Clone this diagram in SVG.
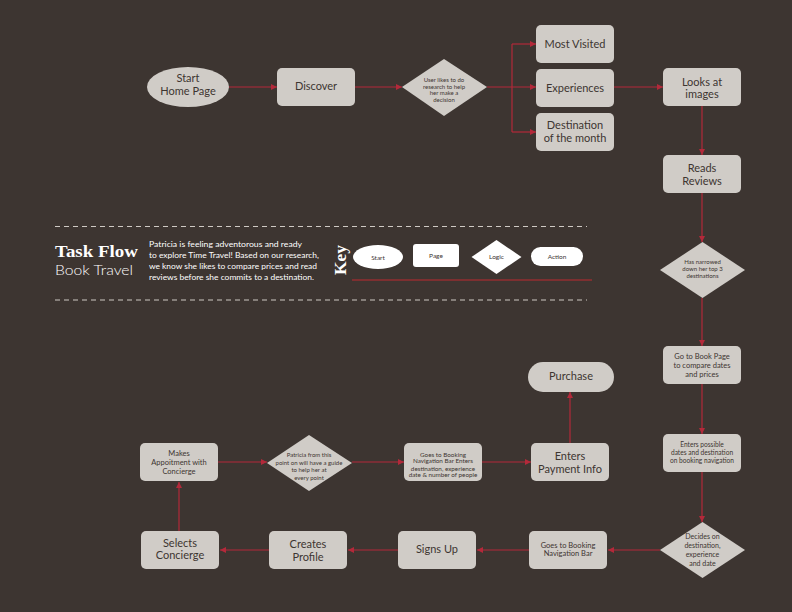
<svg xmlns="http://www.w3.org/2000/svg" width="792" height="612" viewBox="0 0 792 612">
<defs>
<style>
.n{fill:#d0ccc7}
.t{font-family:Lato,"Liberation Sans",sans-serif;fill:#3d3531;text-anchor:middle}
.l{font-size:11px}
.s{font-size:6px}
.m{font-size:7.5px}
.c{fill:none;stroke:#b3293a;stroke-width:1.2}
.k{fill:#ffffff}
.kt{font-family:Lato,"Liberation Sans",sans-serif;fill:#3d3531;font-size:6.5px;text-anchor:middle}
.d{stroke:#cfcac4;stroke-width:1;stroke-dasharray:5 4;fill:none}
</style>
<marker id="a" markerUnits="userSpaceOnUse" markerWidth="6" markerHeight="6" refX="6" refY="3" orient="auto">
<path d="M0,0 L6,3 L0,6 z" fill="#b3293a"/>
</marker>
</defs>
<rect width="792" height="612" fill="#3d3531"/>

<g id="connectors">
<path class="c" d="M229,87 H277" marker-end="url(#a)"/>
<path class="c" d="M355,87 H402" marker-end="url(#a)"/>
<path class="c" d="M487,87 H536" marker-end="url(#a)"/>
<path class="c" d="M512,44 V132"/>
<path class="c" d="M512,44 H536" marker-end="url(#a)"/>
<path class="c" d="M512,132 H536" marker-end="url(#a)"/>
<path class="c" d="M614,87 H663" marker-end="url(#a)"/>
<path class="c" d="M702,106 V155" marker-end="url(#a)"/>
<path class="c" d="M702,193 V242" marker-end="url(#a)"/>
<path class="c" d="M702,298 V346" marker-end="url(#a)"/>
<path class="c" d="M702,384 V434" marker-end="url(#a)"/>
<path class="c" d="M702,472 V522" marker-end="url(#a)"/>
<path class="c" d="M660,550 H608" marker-end="url(#a)"/>
<path class="c" d="M529,550 H477" marker-end="url(#a)"/>
<path class="c" d="M398,550 H348" marker-end="url(#a)"/>
<path class="c" d="M269,550 H220" marker-end="url(#a)"/>
<path class="c" d="M179,531 V482" marker-end="url(#a)"/>
<path class="c" d="M218,462 H267" marker-end="url(#a)"/>
<path class="c" d="M352,462 H404" marker-end="url(#a)"/>
<path class="c" d="M482,462 H531" marker-end="url(#a)"/>
<path class="c" d="M570,443 V392" marker-end="url(#a)"/>
</g>

<g id="start">
<ellipse class="n" cx="188" cy="87" rx="41" ry="20"/>
<text class="t l" x="188" y="82">Start</text>
<text class="t l" x="188" y="95">Home Page</text>
</g>
<g id="discover">
<rect class="n" x="277" y="68" width="78" height="38" rx="5"/>
<text class="t l" x="316" y="90">Discover</text>
</g>
<g id="decision1">
<polygon class="n" points="444,59 487,87 444,116 402,87"/>
<text class="t s" x="444" y="82">User likes to do</text>
<text class="t s" x="444" y="88.5">research to help</text>
<text class="t s" x="444" y="95">her make a</text>
<text class="t s" x="444" y="101.5">decision</text>
</g>
<g id="most-visited">
<rect class="n" x="536" y="25" width="78" height="38" rx="5"/>
<text class="t l" x="575" y="48">Most Visited</text>
</g>
<g id="experiences">
<rect class="n" x="536" y="69" width="78" height="38" rx="5"/>
<text class="t l" x="575" y="91.5">Experiences</text>
</g>
<g id="destination">
<rect class="n" x="536" y="113" width="78" height="38" rx="5"/>
<text class="t l" x="575" y="129">Destination</text>
<text class="t l" x="575" y="141.5">of the month</text>
</g>
<g id="looks">
<rect class="n" x="663" y="68" width="78" height="38" rx="5"/>
<text class="t l" x="702" y="85.5">Looks at</text>
<text class="t l" x="702" y="98">images</text>
</g>
<g id="reads">
<rect class="n" x="663" y="155" width="78" height="38" rx="5"/>
<text class="t l" x="702" y="172">Reads</text>
<text class="t l" x="702" y="185">Reviews</text>
</g>
<g id="narrowed">
<polygon class="n" points="702.5,242 745,270 702.5,298 660,270"/>
<text class="t s" x="702.5" y="264">Has narrowed</text>
<text class="t s" x="702.5" y="271">down her top 3</text>
<text class="t s" x="702.5" y="278">destinations</text>
</g>
<g id="book-page">
<rect class="n" x="663" y="346" width="78" height="38" rx="5"/>
<text class="t" font-size="7.5" x="702" y="358.5">Go to Book Page</text>
<text class="t" font-size="7.5" x="702" y="367.5">to compare dates</text>
<text class="t" font-size="7.5" x="702" y="376.5">and prices</text>
</g>
<g id="enters-dates">
<rect class="n" x="663" y="434" width="78" height="38" rx="5"/>
<text class="t" font-size="6.6" x="702" y="447">Enters possible</text>
<text class="t" font-size="6.6" x="702" y="455">dates and destination</text>
<text class="t" font-size="6.6" x="702" y="463">on booking navigation</text>
</g>
<g id="decides">
<polygon class="n" points="702.5,522 745,550 702.5,578 660,550"/>
<text class="t" font-size="7" x="702.5" y="539">Decides on</text>
<text class="t" font-size="7" x="702.5" y="547.5">destination,</text>
<text class="t" font-size="7" x="702.5" y="557">experience</text>
<text class="t" font-size="7" x="702.5" y="565.5">and date</text>
</g>
<g id="goes-nav">
<rect class="n" x="529" y="531" width="78" height="38" rx="5"/>
<text class="t m" x="568" y="547.5">Goes to Booking</text>
<text class="t m" x="568" y="556">Navigation Bar</text>
</g>
<g id="signs-up">
<rect class="n" x="398" y="531" width="78" height="38" rx="5"/>
<text class="t l" x="437" y="553">Signs Up</text>
</g>
<g id="creates-profile">
<rect class="n" x="269" y="531" width="78" height="38" rx="5"/>
<text class="t l" x="308" y="548">Creates</text>
<text class="t l" x="308" y="560.5">Profile</text>
</g>
<g id="selects-concierge">
<rect class="n" x="141" y="531" width="78" height="38" rx="5"/>
<text class="t l" x="180" y="546.5">Selects</text>
<text class="t l" x="180" y="559">Concierge</text>
</g>
<g id="makes-appointment">
<rect class="n" x="140" y="443" width="78" height="38" rx="5"/>
<text class="t" font-size="7.5" x="179" y="455.5">Makes</text>
<text class="t" font-size="7.5" x="179" y="464.5">Appoitment with</text>
<text class="t" font-size="7.5" x="179" y="473.5">Concierge</text>
</g>
<g id="guide">
<polygon class="n" points="309,435 352,463 309,491 267,463"/>
<text class="t s" x="309" y="457">Patricia from this</text>
<text class="t s" x="309" y="464.5">point on will have a guide</text>
<text class="t s" x="309" y="472">to help her at</text>
<text class="t s" x="309" y="479.5">every point</text>
</g>
<g id="goes-enters">
<rect class="n" x="404" y="443" width="78" height="38" rx="5"/>
<text class="t" font-size="6.3" x="443" y="456.5">Goes to Booking</text>
<text class="t" font-size="6.3" x="443" y="463">Navigation Bar Enters</text>
<text class="t" font-size="6.3" x="443" y="470.5">destination, experience</text>
<text class="t" font-size="6.3" x="443" y="477">date &amp; number of people</text>
</g>
<g id="payment">
<rect class="n" x="531" y="443" width="78" height="38" rx="5"/>
<text class="t l" x="570" y="460">Enters</text>
<text class="t l" x="570" y="473">Payment Info</text>
</g>
<g id="purchase">
<rect class="n" x="528" y="362" width="86" height="30" rx="15"/>
<text class="t l" x="571" y="380">Purchase</text>
</g>

<g id="title">
<path class="d" d="M55,226.5 H587"/>
<path class="d" d="M55,300 H587"/>
<text x="55" y="256.5" font-family="'Liberation Serif',serif" font-weight="bold" font-size="16" fill="#ffffff" textLength="83" lengthAdjust="spacingAndGlyphs">Task Flow</text>
<text x="55" y="275" font-family="Lato,'Liberation Sans',sans-serif" font-weight="300" font-size="14" fill="#ffffff" textLength="78" lengthAdjust="spacingAndGlyphs">Book Travel</text>
<g font-family="Lato,'Liberation Sans',sans-serif" font-size="8" fill="#ffffff">
<text x="149" y="247" textLength="153" lengthAdjust="spacingAndGlyphs">Patricia is feeling adventorous and ready</text>
<text x="149" y="258" textLength="170" lengthAdjust="spacingAndGlyphs">to explore Time Travel! Based on our research,</text>
<text x="149" y="269" textLength="168" lengthAdjust="spacingAndGlyphs">we know she likes to compare prices and read</text>
<text x="149" y="280" textLength="165" lengthAdjust="spacingAndGlyphs">reviews before she commits to a destination.</text>
</g>
</g>

<g id="key">
<text transform="translate(346,260) rotate(-90)" font-family="'Liberation Serif',serif" font-weight="bold" font-size="17" fill="#ffffff" text-anchor="middle" textLength="30" lengthAdjust="spacingAndGlyphs">Key</text>
<ellipse class="k" cx="378" cy="257" rx="25" ry="12"/>
<text class="kt" x="378" y="259.5">Start</text>
<rect class="k" x="413" y="244" width="46" height="23" rx="3"/>
<text class="kt" x="436" y="257.5">Page</text>
<polygon class="k" points="496.5,240 521.5,257 496.5,274 471.5,257"/>
<text class="kt" x="496.5" y="258.5">Logic</text>
<rect class="k" x="531" y="247" width="52" height="19" rx="9.5"/>
<text class="kt" x="557" y="258.5">Action</text>
<path d="M352,280 H592" stroke="#7d2f30" stroke-width="2"/>
</g>
</svg>
